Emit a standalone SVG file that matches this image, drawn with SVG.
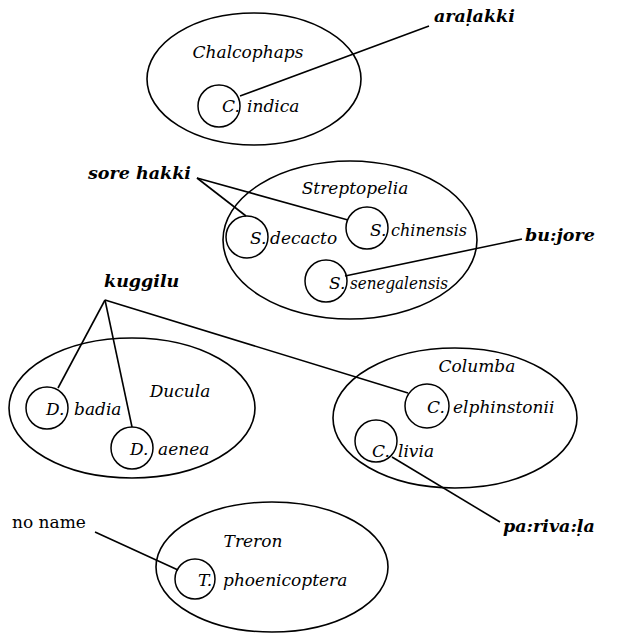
<svg xmlns="http://www.w3.org/2000/svg" width="633" height="637" viewBox="0 0 633 637">
<style>
.g{fill:none;stroke:#000;stroke-width:1.6}
.c{fill:none;stroke:#000;stroke-width:1.5}
.l{fill:none;stroke:#000;stroke-width:1.6}
text{font-family:"DejaVu Serif","Liberation Serif",serif;font-size:17px;fill:#000}
.i{font-style:italic}
.b{font-style:italic;font-weight:bold;font-size:17.5px}
</style>
<rect width="633" height="637" fill="#fff"/>
<g id="connectors">
<line class="l" x1="240" y1="96" x2="429" y2="26"/>
<line class="l" x1="197" y1="178" x2="246" y2="216"/>
<line class="l" x1="197" y1="178" x2="348" y2="220"/>
<line class="l" x1="345" y1="276" x2="522" y2="239"/>
<line class="l" x1="105" y1="300" x2="58" y2="388"/>
<line class="l" x1="105" y1="300" x2="132" y2="427"/>
<line class="l" x1="105" y1="300" x2="408" y2="393"/>
<line class="l" x1="392" y1="457" x2="500" y2="522"/>
<line class="l" x1="95" y1="532" x2="178" y2="570"/>
</g>
<g id="chalcophaps">
<ellipse class="g" cx="254" cy="79" rx="107" ry="66"/>
<text class="i" x="248" y="58" text-anchor="middle">Chalcophaps</text>
<circle class="c" cx="219" cy="106" r="21"/>
<text class="i" x="222" y="112">C.</text>
<text class="i" x="247" y="112">indica</text>
</g>
<g id="aralakki"><text class="b" x="434" y="22">araḷakki</text></g>
<g id="sorehakki"><text class="b" x="88" y="179">sore hakki</text></g>
<g id="streptopelia">
<ellipse class="g" cx="350" cy="240" rx="127" ry="79"/>
<text class="i" x="355" y="194" text-anchor="middle">Streptopelia</text>
<circle class="c" cx="247" cy="237" r="21"/>
<text class="i" x="250" y="244">S.</text>
<text class="i" x="270" y="244">decacto</text>
<circle class="c" cx="367" cy="228" r="21"/>
<text class="i" x="370" y="236">S.</text>
<text class="i" x="391" y="236" textLength="76" lengthAdjust="spacingAndGlyphs">chinensis</text>
<circle class="c" cx="326" cy="281" r="21"/>
<text class="i" x="329" y="289">S.</text>
<text class="i" x="350" y="289" textLength="98" lengthAdjust="spacingAndGlyphs">senegalensis</text>
</g>
<g id="bujore"><text class="b" x="525" y="241">bu:jore</text></g>
<g id="kuggilu"><text class="b" x="104" y="287">kuggilu</text></g>
<g id="ducula">
<ellipse class="g" cx="132" cy="408" rx="123" ry="70"/>
<text class="i" x="180" y="397" text-anchor="middle">Ducula</text>
<circle class="c" cx="47" cy="408" r="21"/>
<text class="i" x="46" y="415">D.</text>
<text class="i" x="74" y="415">badia</text>
<circle class="c" cx="132" cy="448" r="21"/>
<text class="i" x="130" y="455">D.</text>
<text class="i" x="158" y="455">aenea</text>
</g>
<g id="columba">
<ellipse class="g" cx="455" cy="418" rx="122" ry="70"/>
<text class="i" x="477" y="372" text-anchor="middle">Columba</text>
<circle class="c" cx="427" cy="406" r="22"/>
<text class="i" x="427" y="413">C.</text>
<text class="i" x="453" y="413">elphinstonii</text>
<circle class="c" cx="376" cy="441" r="21"/>
<text class="i" x="372" y="457">C.</text>
<text class="i" x="398" y="457">livia</text>
</g>
<g id="parivala"><text class="b" x="503" y="532">pa:riva:ḷa</text></g>
<g id="noname"><text x="12" y="528">no name</text></g>
<g id="treron">
<ellipse class="g" cx="272" cy="567" rx="116" ry="65"/>
<text class="i" x="253" y="547" text-anchor="middle">Treron</text>
<circle class="c" cx="195" cy="579" r="20"/>
<text class="i" x="198" y="586">T.</text>
<text class="i" x="223" y="586">phoenicoptera</text>
</g>
</svg>
